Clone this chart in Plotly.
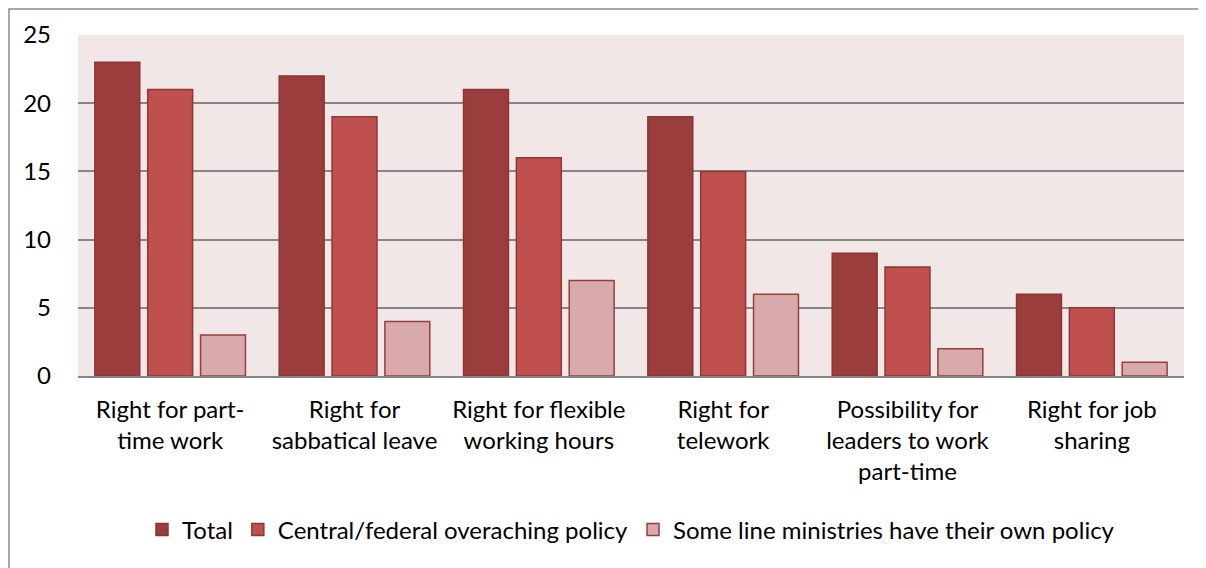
import plotly.graph_objects as go

categories = [
    "Right for part-<br>time work",
    "Right for<br>sabbatical leave",
    "Right for flexible<br>working hours",
    "Right for<br>telework",
    "Possibility for<br>leaders to work<br>part-time",
    "Right for job<br>sharing",
]
total = [23, 22, 21, 19, 9, 6]
central = [21, 19, 16, 15, 8, 5]
line_ministries = [3, 4, 7, 6, 2, 1]
y_ticks = [0, 5, 10, 15, 20, 25]

# page has 8px body margin; figure starts at page (8, 8)
W, H = 1198, 560
ml, mr, mt, mb = 70, 22, 27, 192
pw, ph = W - ml - mr, H - mt - mb

font = "Lato"
fig = go.Figure()
series = [
    ("Total", total, "#9B3D3D", "#8A3535"),
    ("Central/federal overaching policy", central, "#C0504D", "#8C3836"),
    ("Some line ministries have their own policy", line_ministries, "#D9AAAB", "#9B3D3D"),
]
for name, vals, col, lc in series:
    fig.add_trace(go.Bar(
        x=categories, y=vals, name=name,
        marker=dict(color=col, line=dict(color=lc, width=1.5)),
    ))

# outer chart border (extends off the right/bottom edge)
fig.add_shape(type="rect", xref="paper", yref="paper",
              x0=(1 - ml) / pw, x1=1 + (mr + 10) / pw,
              y0=-(mb + 10) / ph, y1=1 + (mt - 1) / ph,
              line=dict(color="#8C8C8C", width=1.5), fillcolor="rgba(0,0,0,0)", layer="below")

fig.update_layout(
    width=W, height=H,
    margin=dict(l=ml, r=mr, t=mt, b=mb),
    paper_bgcolor="white",
    plot_bgcolor="#F2E7E7",
    barmode="group",
    bargap=0.14,
    bargroupgap=0.15,
    font=dict(family=font, size=24, color="#000000"),
    showlegend=True,
    legend=dict(orientation="h", x=0.5, xanchor="center", y=(368 - 522) / ph, yanchor="middle",
                font=dict(size=24), traceorder="normal"),
    xaxis=dict(showgrid=False, showline=True, linecolor="#868686", linewidth=2,
               ticks="", tickfont=dict(size=24), ticklabelstandoff=11),
    yaxis=dict(range=[0, 25], tickvals=y_ticks, showgrid=True, gridcolor="#868686",
               gridwidth=1.5, zeroline=False, showline=False, ticks="",
               tickfont=dict(size=24), ticklabelstandoff=26),
)

fig.write_html("out.html")
